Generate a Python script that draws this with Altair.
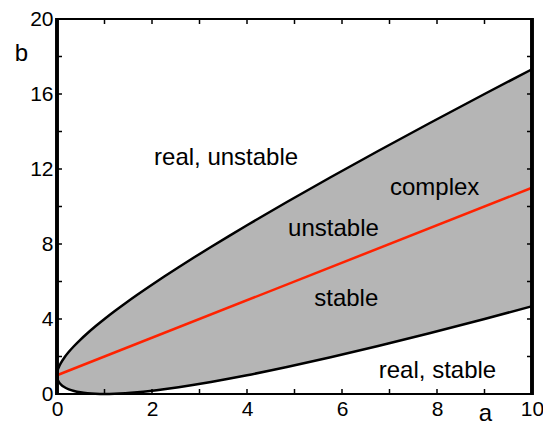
import altair as alt
import pandas as pd

# boundary of the complex region
a_vals = [0, 0.01, 0.04, 0.09, 0.16, 0.25, 0.36, 0.49, 0.64, 0.81, 1.0, 1.21, 1.44, 1.69,
          1.96, 2.25, 2.56, 2.89, 3.24, 3.61, 4.0, 4.84, 5.76, 6.76, 7.84, 9.0, 10.0]
b_upper = [1.0, 1.21, 1.44, 1.69, 1.96, 2.25, 2.56, 2.89, 3.24, 3.61, 4.0, 4.41, 4.84, 5.29,
           5.76, 6.25, 6.76, 7.29, 7.84, 8.41, 9.0, 10.24, 11.56, 12.96, 14.44, 16.0, 17.32]
b_lower = [1.0, 0.81, 0.64, 0.49, 0.36, 0.25, 0.16, 0.09, 0.04, 0.01, 0.0, 0.01, 0.04, 0.09,
           0.16, 0.25, 0.36, 0.49, 0.64, 0.81, 1.0, 1.44, 1.96, 2.56, 3.24, 4.0, 4.68]

# red line (stability boundary)
red_a = [0, 10]
red_b = [1, 11]

# region labels
lab_text = ["real, unstable", "complex", "unstable", "stable", "real, stable"]
lab_a = [3.56, 7.95, 5.82, 6.09, 8.01]
lab_b = [12.6, 11.0, 8.8, 5.05, 1.22]

x_ticks = list(range(0, 11))
y_ticks = list(range(0, 21, 2))
x_labels = [0, 2, 4, 6, 8, 10]
y_labels = [0, 4, 8, 12, 16, 20]

W, H = 475, 375
FONT = "Liberation Sans"

region = pd.DataFrame({"a": a_vals, "up": b_upper, "lo": b_lower})
red = pd.DataFrame({"a": red_a, "b": red_b})
labels = pd.DataFrame({"a": lab_a, "b": lab_b, "t": lab_text})
xt = pd.DataFrame({"v": x_ticks})
yt = pd.DataFrame({"v": y_ticks})

xscale = alt.Scale(domain=[0, 10], nice=False, zero=False)
yscale = alt.Scale(domain=[0, 20], nice=False, zero=False)

xaxis = alt.Axis(values=x_labels, ticks=False, domain=False, grid=False, labelFontSize=21,
                 labelFont=FONT, labelColor="black", labelPadding=4, labelFlush=False,
                 labelOverlap=False, title="a", titleFont=FONT, titleFontSize=24,
                 titleFontWeight="normal", titleColor="black", titleX=428, titleY=31,
                 titleBaseline="bottom", titleAlign="center")
yaxis = alt.Axis(values=y_labels, ticks=False, domain=False, grid=False, labelFontSize=21,
                 labelFont=FONT, labelColor="black", labelPadding=4, labelFlush=False,
                 labelOverlap=False, title="b", titleFont=FONT, titleFontSize=24,
                 titleFontWeight="normal", titleColor="black", titleX=-36, titleY=41,
                 titleBaseline="alphabetic", titleAlign="center", titleAngle=0)

base = alt.Chart(region)

area = base.mark_area(color="#b5b5b5", interpolate="monotone").encode(
    x=alt.X("a:Q", scale=xscale, axis=xaxis),
    y=alt.Y("lo:Q", scale=yscale, axis=yaxis),
    y2="up:Q",
)
upper = base.mark_line(color="black", strokeWidth=2.5, interpolate="monotone").encode(
    x=alt.X("a:Q", scale=xscale), y=alt.Y("up:Q", scale=yscale))
lower = base.mark_line(color="black", strokeWidth=2.5, interpolate="monotone").encode(
    x=alt.X("a:Q", scale=xscale), y=alt.Y("lo:Q", scale=yscale))

redline = alt.Chart(red).mark_line(color="#ff2200", strokeWidth=2.5).encode(
    x=alt.X("a:Q", scale=xscale), y=alt.Y("b:Q", scale=yscale))

text = alt.Chart(labels).mark_text(font=FONT, fontSize=24, color="black",
                                   align="center", baseline="middle").encode(
    x=alt.X("a:Q", scale=xscale), y=alt.Y("b:Q", scale=yscale), text="t:N")

TL = 5
tick_b = alt.Chart(xt).mark_rule(color="black", strokeWidth=1.5).encode(
    x=alt.X("v:Q", scale=xscale), y=alt.value(H), y2=alt.value(H - TL))
tick_t = alt.Chart(xt).mark_rule(color="black", strokeWidth=1.5).encode(
    x=alt.X("v:Q", scale=xscale), y=alt.value(0), y2=alt.value(TL))
tick_l = alt.Chart(yt).mark_rule(color="black", strokeWidth=1.5).encode(
    y=alt.Y("v:Q", scale=yscale), x=alt.value(0), x2=alt.value(TL))
tick_r = alt.Chart(yt).mark_rule(color="black", strokeWidth=1.5).encode(
    y=alt.Y("v:Q", scale=yscale), x=alt.value(W), x2=alt.value(W - TL))

# plot frame
frame = alt.Chart(region).mark_rect(fill=None, stroke="black", strokeWidth=2.2).encode(
    x=alt.value(0), x2=alt.value(W), y=alt.value(0), y2=alt.value(H))

chart = alt.layer(area, upper, lower, redline, text, tick_b, tick_t, tick_l, tick_r,
                  frame).properties(
    width=W, height=H,
    autosize=alt.AutoSizeParams(type="none"),
    padding={"left": 49, "top": 11, "right": 11, "bottom": 32},
).configure_view(stroke=None).configure(background="white")

chart.save("out.html", embed_options={"renderer": "svg", "actions": False})
